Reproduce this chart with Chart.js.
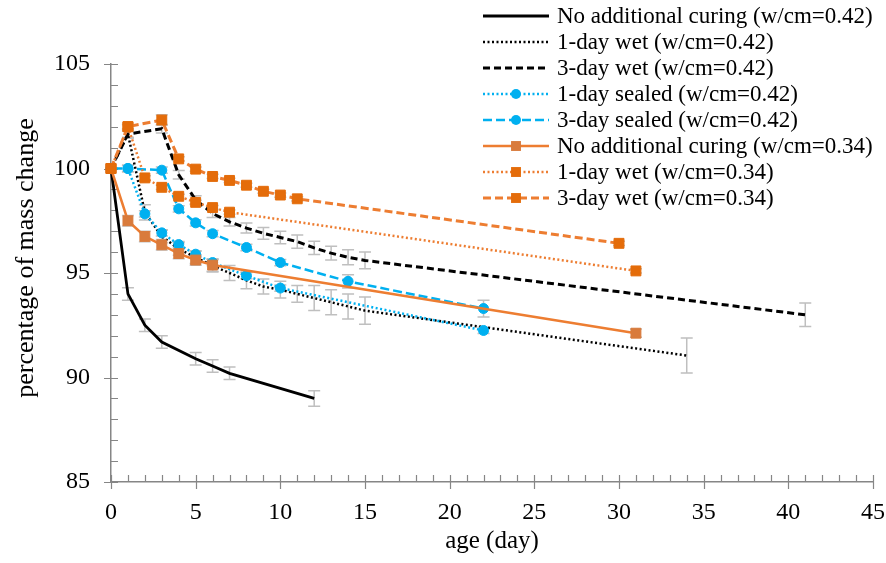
<!DOCTYPE html>
<html>
<head>
<meta charset="utf-8">
<script src="https://cdn.jsdelivr.net/npm/chart.js@4.4.0/dist/chart.umd.min.js"></script>
<style>
  html, body { margin: 0; padding: 0; background: #fff; }
  #wrap { width: 886px; height: 563px; }
</style>
</head>
<body>
<div id="wrap"><canvas id="massChart" width="886" height="563"></canvas></div>
<script>
// age in days, mass in % of initial, err = error bar half height
const ageNoCure042 = [0, 1, 2, 3, 5, 6, 7, 12];
const massNoCure042 = [100, 94.0, 92.5, 91.7, 90.9, 90.55, 90.2, 89.0];
const errNoCure042 = [0, 0.3, 0.3, 0.3, 0.3, 0.3, 0.3, 0.37];

const ageWet1d042 = [0, 1, 2, 3, 4, 5, 6, 7, 8, 9, 10, 11, 12, 13, 14, 15, 34];
const massWet1d042 = [100, 101.65, 97.9, 96.75, 96.15, 95.75, 95.35, 95.0, 94.65, 94.35, 94.2, 94.0, 93.8, 93.6, 93.4, 93.2, 91.05];
const errWet1d042 = [0, 0.2, 0.36, 0.3, 0.3, 0.3, 0.3, 0.36, 0.4, 0.36, 0.4, 0.4, 0.6, 0.6, 0.6, 0.65, 0.84];

const ageWet3d042 = [0, 1, 3, 4, 5, 6, 7, 8, 9, 10, 11, 12, 13, 14, 15, 41];
const massWet3d042 = [100, 101.65, 101.9, 99.7, 98.5, 97.85, 97.45, 97.15, 96.9, 96.7, 96.5, 96.2, 95.95, 95.75, 95.6, 93.0];
const errWet3d042 = [0, 0.15, 0.2, 0.2, 0.2, 0.2, 0.2, 0.24, 0.28, 0.3, 0.32, 0.32, 0.33, 0.36, 0.4, 0.56];

const ageSealed1d042 = [0, 1, 2, 3, 4, 5, 6, 8, 10, 22];
const massSealed1d042 = [100, 100, 97.83, 96.92, 96.36, 95.9, 95.5, 94.87, 94.28, 92.25];
const errSealed1d042 = [0, 0.15, 0.15, 0.15, 0.15, 0.15, 0.15, 0.15, 0.15, 0.15];

const ageSealed3d042 = [0, 1, 3, 4, 5, 6, 8, 10, 14, 22];
const massSealed3d042 = [100, 100, 99.92, 98.07, 97.4, 96.88, 96.22, 95.5, 94.6, 93.3];
const errSealed3d042 = [0, 0.15, 0.15, 0.15, 0.15, 0.15, 0.15, 0.15, 0.32, 0.4];

const ageNoCure034 = [0, 1, 2, 3, 4, 5, 6, 31];
const massNoCure034 = [100, 97.5, 96.75, 96.35, 95.93, 95.62, 95.38, 92.12];
const errNoCure034 = [0, 0.25, 0.25, 0.25, 0.25, 0.25, 0.3, 0.2];

const ageWet1d034 = [0, 1, 2, 3, 4, 5, 6, 7, 31];
const massWet1d034 = [100, 102.0, 99.55, 99.1, 98.67, 98.38, 98.13, 97.91, 95.1];
const errWet1d034 = [0, 0.1, 0.1, 0.1, 0.1, 0.1, 0.1, 0.1, 0.1];

const ageWet3d034 = [0, 1, 3, 4, 5, 6, 7, 8, 9, 10, 11, 30];
const massWet3d034 = [100, 102.0, 102.32, 100.46, 99.97, 99.62, 99.43, 99.2, 98.91, 98.73, 98.55, 96.42];
const errWet3d034 = [0, 0.1, 0.25, 0.1, 0.1, 0.1, 0.1, 0.1, 0.1, 0.1, 0.1, 0.1];

const seriesLabels = [
    'No additional curing (w/cm=0.42)',
    '1-day wet (w/cm=0.42)',
    '3-day wet (w/cm=0.42)',
    '1-day sealed (w/cm=0.42)',
    '3-day sealed (w/cm=0.42)',
    'No additional curing (w/cm=0.34)',
    '1-day wet (w/cm=0.34)',
    '3-day wet (w/cm=0.34)'
];

const xTicks = [0, 5, 10, 15, 20, 25, 30, 35, 40, 45];
const yTicks = [85, 90, 95, 100, 105];
const yTitle = 'percentage of mass change';

const BLACK = '#000000';
const BLUE = '#00B0F0';
const ORANGE = '#ED7D31';
const ORANGE_DARK = '#E46C0A';
const AXIS_GREY = '#868686';
const SERIF = "'Liberation Serif', 'Times New Roman', serif";

function toPoints(ages, mass){
    return ages.map((a, i) => ({x: a, y: mass[i]}));
}

function makeSet(idx, ages, mass, errs, style){
    return Object.assign({
        label: seriesLabels[idx],
        data: toPoints(ages, mass),
        errors: errs,
        order: 7 - idx,
        fill: false,
        tension: 0,
        clip: false,
        pointRadius: 0,
        borderWidth: 2.5
    }, style);
}

const datasets = [
    makeSet(0, ageNoCure042, massNoCure042, errNoCure042, {borderColor: BLACK, borderWidth: 2.8}),
    makeSet(1, ageWet1d042, massWet1d042, errWet1d042, {borderColor: BLACK, borderDash: [2, 2.5]}),
    makeSet(2, ageWet3d042, massWet3d042, errWet3d042, {borderColor: BLACK, borderDash: [7, 4], borderWidth: 3}),
    makeSet(3, ageSealed1d042, massSealed1d042, errSealed1d042, {borderColor: BLUE, borderDash: [2, 2.5],
        pointStyle: 'circle', pointRadius: 5, pointBackgroundColor: BLUE, pointBorderColor: BLUE, pointBorderWidth: 1}),
    makeSet(4, ageSealed3d042, massSealed3d042, errSealed3d042, {borderColor: BLUE, borderDash: [9, 4],
        pointStyle: 'circle', pointRadius: 5, pointBackgroundColor: BLUE, pointBorderColor: BLUE, pointBorderWidth: 1}),
    makeSet(5, ageNoCure034, massNoCure034, errNoCure034, {borderColor: ORANGE,
        pointStyle: 'rect', pointRadius: 7, pointBackgroundColor: '#D97B3C', pointBorderColor: '#D97B3C', pointBorderWidth: 1}),
    makeSet(6, ageWet1d034, massWet1d034, errWet1d034, {borderColor: ORANGE, borderDash: [2, 2.5],
        pointStyle: 'rect', pointRadius: 7, pointBackgroundColor: ORANGE_DARK, pointBorderColor: ORANGE_DARK, pointBorderWidth: 1}),
    makeSet(7, ageWet3d034, massWet3d034, errWet3d034, {borderColor: ORANGE, borderDash: [8, 4], borderWidth: 3,
        pointStyle: 'rect', pointRadius: 7, pointBackgroundColor: ORANGE_DARK, pointBorderColor: ORANGE_DARK, pointBorderWidth: 1})
];

// grey error bars, under the lines
const errorBars = {
    id: 'errorBars',
    beforeDatasetsDraw(chart){
        const ctx = chart.ctx;
        const xs = chart.scales.x, ys = chart.scales.y;
        ctx.save();
        ctx.strokeStyle = '#BFBFBF';
        ctx.lineWidth = 1.5;
        chart.data.datasets.forEach(ds => {
            ds.data.forEach((p, j) => {
                const e = ds.errors[j];
                if (!e) return;
                const px = xs.getPixelForValue(p.x);
                const top = ys.getPixelForValue(p.y + e);
                const bot = ys.getPixelForValue(p.y - e);
                ctx.beginPath();
                ctx.moveTo(px, top); ctx.lineTo(px, bot);
                ctx.moveTo(px - 6, top); ctx.lineTo(px + 6, top);
                ctx.moveTo(px - 6, bot); ctx.lineTo(px + 6, bot);
                ctx.stroke();
            });
        });
        ctx.restore();
    }
};

// excel style major / minor tick marks, plus the y title placed like the original
const tickMarks = {
    id: 'tickMarks',
    beforeDatasetsDraw(chart){
        const ctx = chart.ctx;
        const xs = chart.scales.x, ys = chart.scales.y;
        const area = chart.chartArea;
        ctx.save();
        ctx.strokeStyle = AXIS_GREY;
        ctx.lineWidth = 1.2;
        ctx.beginPath();
        for (let v = xs.min; v <= xs.max; v++){
            const px = Math.round(xs.getPixelForValue(v)) + 0.5;
            if (v % 5 === 0){
                ctx.moveTo(px, area.bottom - 7); ctx.lineTo(px, area.bottom + 7);
            } else {
                ctx.moveTo(px, area.bottom - 7); ctx.lineTo(px, area.bottom);
            }
        }
        for (let v = ys.min; v <= ys.max; v++){
            const py = Math.round(ys.getPixelForValue(v)) + 0.5;
            if (v % 5 === 0){
                ctx.moveTo(area.left - 7, py); ctx.lineTo(area.left + 7, py);
            } else {
                ctx.moveTo(area.left, py); ctx.lineTo(area.left + 7, py);
            }
        }
        ctx.stroke();

        ctx.translate(26, 258);
        ctx.rotate(-Math.PI / 2);
        ctx.font = '26px ' + SERIF;
        ctx.fillStyle = '#000';
        ctx.textAlign = 'center';
        ctx.textBaseline = 'middle';
        ctx.fillText(yTitle, 0, 0);
        ctx.restore();
    }
};

// legend in the top right corner, overlapping the plot like the original
const cornerLegend = {
    id: 'cornerLegend',
    afterDraw(chart){
        const ctx = chart.ctx;
        ctx.save();
        ctx.font = '23px ' + SERIF;
        ctx.textBaseline = 'middle';
        chart.data.datasets.forEach((ds, i) => {
            const y = 16 + i * 26;
            ctx.strokeStyle = ds.borderColor;
            ctx.lineWidth = ds.borderWidth;
            ctx.setLineDash(ds.borderDash || []);
            ctx.beginPath();
            ctx.moveTo(483, y); ctx.lineTo(549, y);
            ctx.stroke();
            ctx.setLineDash([]);
            if (ds.pointRadius > 0){
                ctx.fillStyle = ds.pointBackgroundColor;
                ctx.beginPath();
                if (ds.pointStyle === 'circle'){
                    ctx.arc(516, y, ds.pointRadius, 0, Math.PI * 2);
                } else {
                    const h = ds.pointRadius * Math.SQRT1_2;
                    ctx.rect(516 - h, y - h, 2 * h, 2 * h);
                }
                ctx.fill();
            }
            ctx.fillStyle = '#000';
            ctx.fillText(ds.label, 557, y + 1);
        });
        ctx.restore();
    }
};

Chart.defaults.font.family = SERIF;
Chart.defaults.color = '#000';

new Chart(document.getElementById('massChart'), {
    type: 'line',
    data: {datasets: datasets},
    options: {
        responsive: false,
        animation: false,
        events: [],
        layout: {padding: {top: 64, right: 13, left: 0, bottom: 0}},
        plugins: {
            legend: {display: false},
            tooltip: {enabled: false}
        },
        scales: {
            x: {
                type: 'linear',
                min: 0,
                max: 45,
                afterBuildTicks: axis => { axis.ticks = xTicks.map(v => ({value: v})); },
                afterFit: axis => {
                    axis.height = 81;
                    axis.paddingLeft = 0;
                    axis.paddingRight = 0;
                },
                grid: {display: false, drawTicks: false},
                border: {display: true, color: AXIS_GREY, width: 1.5},
                ticks: {font: {size: 24}, padding: 16, maxRotation: 0, autoSkip: false},
                title: {display: true, text: 'age (day)', font: {size: 25}, padding: {top: 0, bottom: 7}}
            },
            y: {
                min: 85,
                max: 105,
                afterBuildTicks: axis => { axis.ticks = yTicks.map(v => ({value: v})); },
                afterFit: axis => {
                    axis.width = 111;
                    axis.paddingTop = 0;
                    axis.paddingBottom = 0;
                },
                grid: {display: false, drawTicks: false},
                border: {display: true, color: AXIS_GREY, width: 1.5},
                ticks: {font: {size: 24}, padding: 21},
                title: {display: false}
            }
        }
    },
    plugins: [errorBars, tickMarks, cornerLegend]
});
</script>
</body>
</html>
